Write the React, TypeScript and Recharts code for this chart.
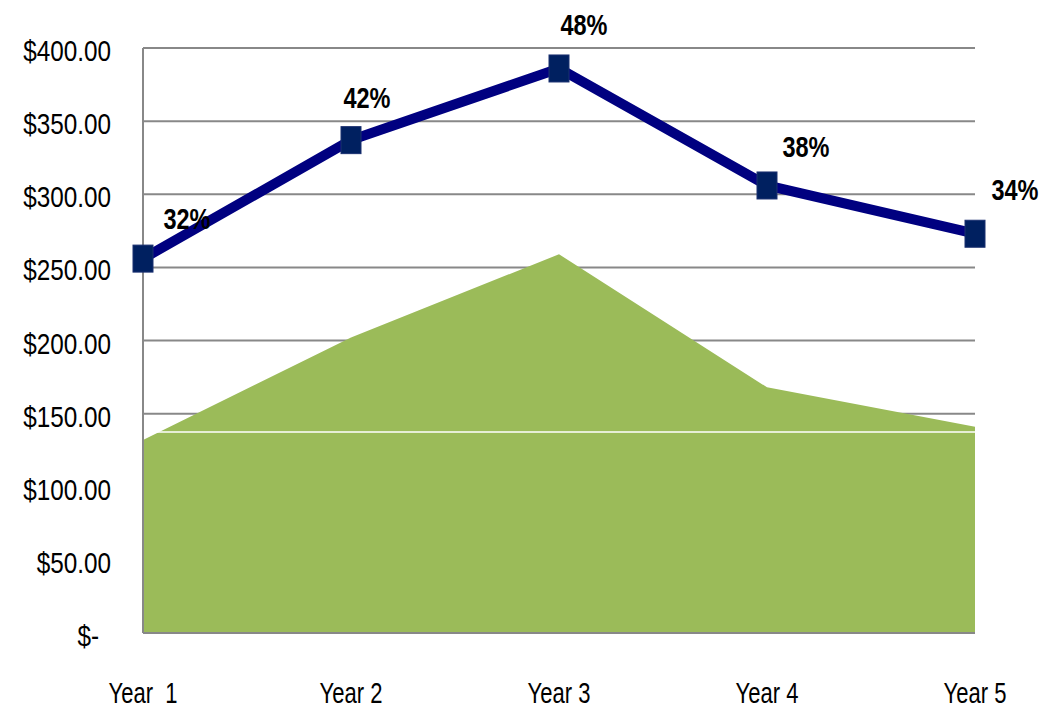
import { Area, CartesianGrid, ComposedChart, LabelList, Line, ReferenceLine, XAxis, YAxis } from "recharts";

const years = ["Year\u00a0 1", "Year 2", "Year 3", "Year 4", "Year 5"];
const totalValues = [256, 337, 386, 306, 273];
const baseValues = [132, 202, 259, 168, 141];
const percentLabels = ["32%", "42%", "48%", "38%", "34%"];
const yTicks = [0, 50, 100, 150, 200, 250, 300, 350, 400];

const data = years.map((year, i) => ({
  year,
  total: totalValues[i],
  base: baseValues[i],
  pct: percentLabels[i],
}));

const FONT = "'Liberation Sans', Arial, sans-serif";

// baseline offsets of the % labels from each marker, as in the original
const labelShift = [
  { dx: 44, dy: -30 },
  { dx: 16, dy: -32 },
  { dx: 25, dy: -33 },
  { dx: 39, dy: -28 },
  { dx: 40, dy: -34 },
];

function money(v: number) {
  return v === 0 ? "$-" : `$${v.toFixed(2)}`;
}

// narrow text: regular font squeezed horizontally to look like Calibri
function Narrow({ x, y, sx, anchor, size, bold, children }: any) {
  return (
    <text
      transform={`translate(${x},${y}) scale(${sx},1)`}
      x={0}
      y={0}
      textAnchor={anchor}
      fontFamily={FONT}
      fontSize={size}
      fontWeight={bold ? "bold" : "normal"}
      fill="#000"
      style={{ whiteSpace: "pre" }}
    >
      {children}
    </text>
  );
}

function YTick(props: any) {
  const { x, y, payload } = props;
  const zero = payload.value === 0;
  return (
    <Narrow x={zero ? x - 12 : x} y={y + 13} sx={0.81} anchor="end" size={30}>
      {money(payload.value)}
    </Narrow>
  );
}

function XTick(props: any) {
  const { x, y, payload } = props;
  return (
    <Narrow x={x} y={y + 70} sx={0.76} anchor="middle" size={29}>
      {payload.value}
    </Narrow>
  );
}

function PctLabel(props: any) {
  const { x, y, value, index } = props;
  const s = labelShift[index] || { dx: 30, dy: -32 };
  return (
    <Narrow x={x + s.dx} y={y + s.dy} sx={0.81} anchor="middle" size={29} bold>
      {value}
    </Narrow>
  );
}

export default function App() {
  return (
    <div style={{ position: "fixed", left: 0, top: 0, width: 1048, height: 710, background: "#fff" }}>
      <ComposedChart width={1048} height={710} data={data} margin={{ top: 48, right: 73, bottom: 0, left: 0 }}>
        <CartesianGrid vertical={false} stroke="#888888" strokeWidth={2} />
        <XAxis
          dataKey="year"
          height={77}
          stroke="#888888"
          strokeWidth={2}
          tickLine={false}
          tickSize={0}
          tickMargin={0}
          tick={<XTick />}
          padding={{ left: 0, right: 0 }}
        />
        <YAxis
          domain={[0, 400]}
          ticks={yTicks}
          width={143}
          stroke="#888888"
          strokeWidth={2}
          tickLine={false}
          tickSize={0}
          tickMargin={32}
          tick={<YTick />}
          interval={0}
        />
        <Area type="linear" dataKey="base" stroke="none" fill="#9BBB59" fillOpacity={1} isAnimationActive={false} />
        <ReferenceLine y={137.5} stroke="#ffffff" strokeWidth={1.5} />
        <Line
          type="linear"
          dataKey="total"
          stroke="#000080"
          strokeWidth={10}
          dot={(p: any) => (
            <rect key={p.index} x={p.cx - 10} y={p.cy - 13.5} width={20} height={27} fill="#002060" stroke="#1a3070" strokeWidth={1} />
          )}
          isAnimationActive={false}
        >
          <LabelList dataKey="pct" content={<PctLabel />} />
        </Line>
      </ComposedChart>
    </div>
  );
}
